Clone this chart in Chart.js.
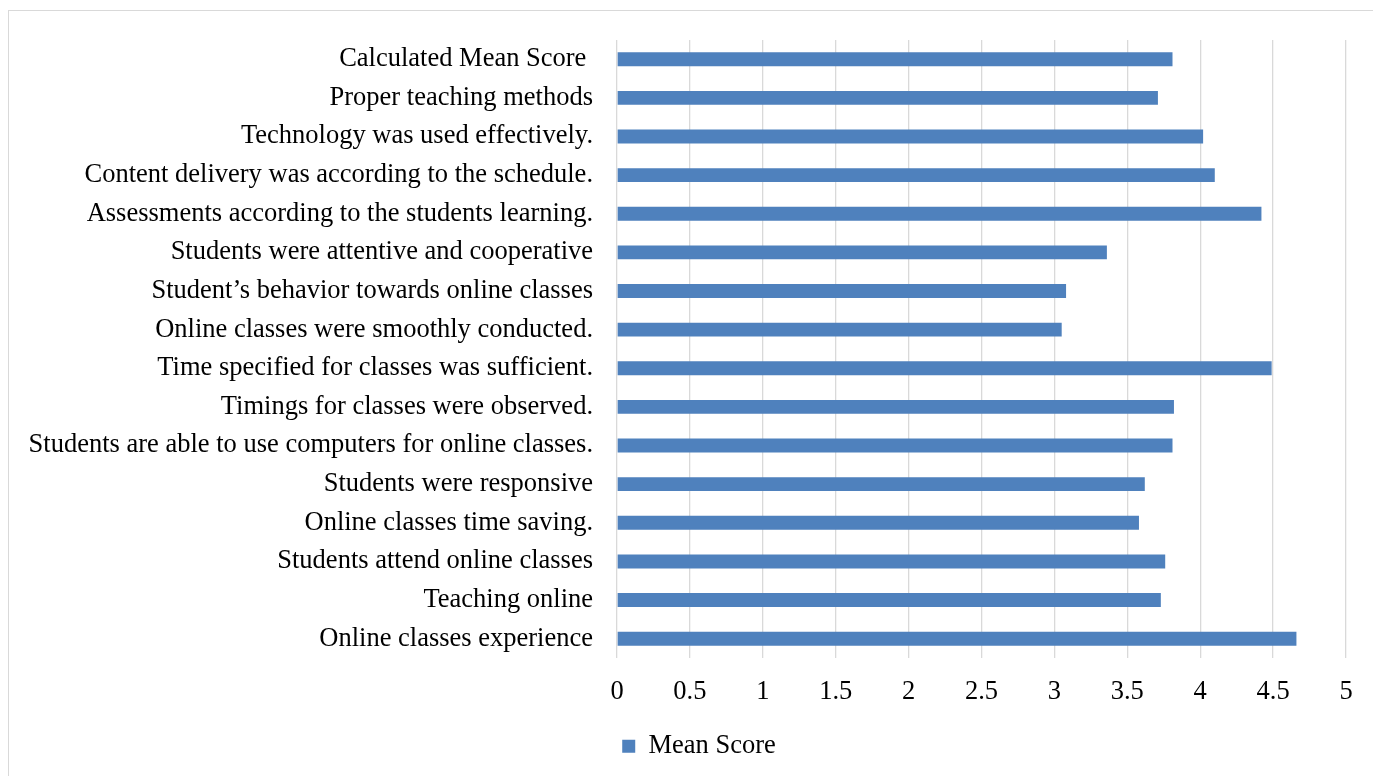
<!DOCTYPE html>
<html>
<head>
<meta charset="utf-8">
<script src="https://cdn.jsdelivr.net/npm/chart.js@4.4.0/dist/chart.umd.min.js"></script>
<style>
    html, body { margin: 0; padding: 0; background: #fff; overflow: hidden; }
    .frame {
        position: absolute; left: 8px; top: 10px;
        width: 1500px; height: 900px;
        border: 1px solid #d9d9d9;
    }
    .wrap { position: absolute; left: 0; top: 0; width: 1394px; height: 776px; }
</style>
</head>
<body>
<div class="frame"></div>
<div class="wrap"><canvas id="meanChart" width="1394" height="776"></canvas></div>
<script>
// ===== Data =====
const categories = [
    'Calculated Mean Score ',
    'Proper teaching methods',
    'Technology was used effectively.',
    'Content delivery was according to the schedule.',
    'Assessments according to the students learning.',
    'Students were attentive and cooperative',
    'Student\u2019s behavior towards online classes',
    'Online classes were smoothly conducted.',
    'Time specified for classes was sufficient.',
    'Timings for classes were observed.',
    'Students are able to use computers for online classes.',
    'Students were responsive',
    'Online classes time saving.',
    'Students attend online classes',
    'Teaching online',
    'Online classes experience'
];
const meanScores = [3.81, 3.71, 4.02, 4.10, 4.42, 3.36, 3.08, 3.05, 4.49, 3.82, 3.81, 3.62, 3.58, 3.76, 3.73, 4.66];
const xTicks = [0, 0.5, 1, 1.5, 2, 2.5, 3, 3.5, 4, 4.5, 5];
const seriesName = 'Mean Score';

const serif = "'Liberation Serif', 'Times New Roman', serif";

// nudge the legend a bit right so it sits where the original one does
const legendShift = {
    id: 'legendShift',
    afterLayout: function(chart) {
        if (chart.legend) {
            chart.legend.left += 26;
            chart.legend.right += 26;
        }
    }
};

new Chart(document.getElementById('meanChart'), {
    type: 'bar',
    data: {
        labels: categories,
        datasets: [{
            label: seriesName,
            data: meanScores,
            backgroundColor: '#4f81bd',
            borderWidth: 0,
            categoryPercentage: 1,
            barPercentage: 0.36
        }]
    },
    options: {
        indexAxis: 'y',
        responsive: false,
        animation: false,
        devicePixelRatio: 1,
        layout: { padding: { top: 39, right: 48, bottom: 6.5, left: 0 } },
        plugins: {
            tooltip: { enabled: false },
            legend: {
                position: 'bottom',
                labels: {
                    boxWidth: 13,
                    boxHeight: 13,
                    padding: 28,
                    color: '#000',
                    font: { family: serif, size: 26.5 }
                }
            }
        },
        scales: {
            x: {
                min: 0,
                max: 5,
                afterBuildTicks: function(scale) {
                    scale.ticks = xTicks.map(v => ({ value: v }));
                },
                afterFit: function(scale) { scale.height = 47; },
                grid: { color: '#d9d9d9', lineWidth: 1.3, drawTicks: false },
                border: { display: false },
                ticks: {
                    padding: 18,
                    color: '#000',
                    font: { family: serif, size: 26.5 },
                    callback: v => String(v)
                }
            },
            y: {
                grid: { display: false, drawTicks: false },
                border: { display: false },
                afterFit: function(scale) { scale.width = 617; },
                ticks: {
                    padding: 24,
                    color: '#000',
                    autoSkip: false,
                    font: { family: serif, size: 26.5 }
                }
            }
        }
    },
    plugins: [legendShift]
});
</script>
</body>
</html>
